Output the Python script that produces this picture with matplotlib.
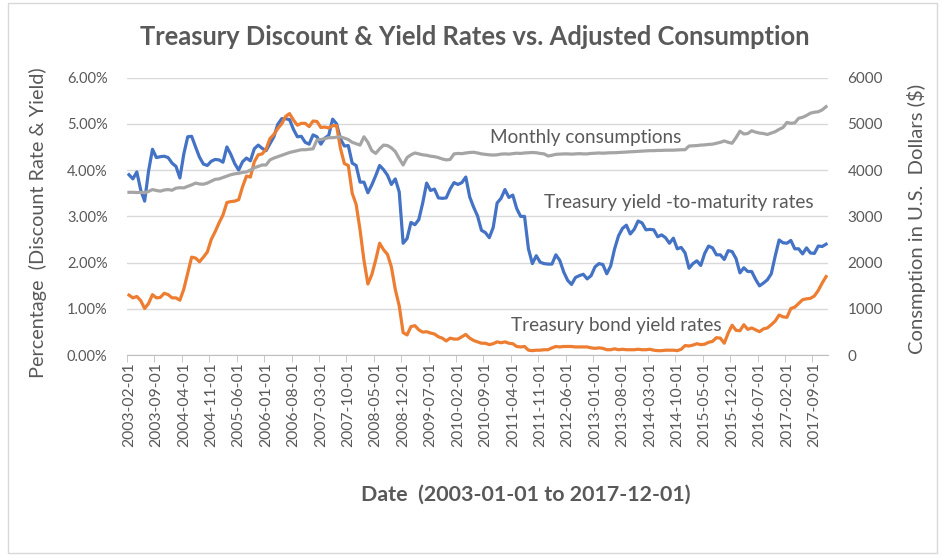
import matplotlib
matplotlib.use("Agg")
import matplotlib.pyplot as plt
import matplotlib.patches as patches
import numpy as np
import pandas as pd

plt.rcParams['font.family'] = ['Lato', 'DejaVu Sans']

# monthly dates, 2003-02-01 .. 2017-12-01
dates = pd.date_range("2003-02-01", "2017-12-01", freq="MS").strftime("%Y-%m-%d").tolist()

# treasury yield-to-maturity (%)
ytm = [3.90, 3.81, 3.96, 3.57, 3.33, 3.98, 4.45, 4.27, 4.29, 4.30, 4.27,
       4.15, 4.08, 3.83, 4.35, 4.72, 4.73, 4.50, 4.28, 4.13, 4.10, 4.19, 4.23,
       4.22, 4.17, 4.50, 4.34, 4.14, 4.00, 4.18, 4.26, 4.20, 4.46, 4.54, 4.47,
       4.42, 4.57, 4.72, 4.99, 5.11, 5.11, 5.09, 4.88, 4.72, 4.73, 4.60, 4.56,
       4.76, 4.72, 4.56, 4.69, 4.75, 5.10, 5.00, 4.67, 4.52, 4.53, 4.15, 4.10,
       3.74, 3.74, 3.51, 3.68, 3.88, 4.10, 4.01, 3.89, 3.69, 3.81, 3.53, 2.42,
       2.52, 2.87, 2.82, 2.93, 3.29, 3.72, 3.56, 3.59, 3.40, 3.39, 3.40, 3.59,
       3.73, 3.69, 3.73, 3.85, 3.42, 3.20, 3.01, 2.70, 2.65, 2.54, 2.76, 3.29,
       3.39, 3.58, 3.41, 3.46, 3.17, 3.00, 3.00, 2.30, 1.98, 2.15, 2.01, 1.98,
       1.97, 1.97, 2.17, 2.05, 1.80, 1.62, 1.53, 1.68, 1.72, 1.75, 1.65, 1.72,
       1.91, 1.98, 1.96, 1.76, 1.93, 2.30, 2.58, 2.74, 2.81, 2.62, 2.72, 2.90,
       2.86, 2.71, 2.72, 2.71, 2.56, 2.60, 2.54, 2.42, 2.53, 2.30, 2.33, 2.21,
       1.88, 1.98, 2.04, 1.94, 2.20, 2.36, 2.32, 2.17, 2.17, 2.07, 2.26, 2.24,
       2.09, 1.78, 1.89, 1.81, 1.81, 1.64, 1.50, 1.56, 1.63, 1.76, 2.14, 2.49,
       2.43, 2.42, 2.48, 2.30, 2.30, 2.19, 2.32, 2.21, 2.20, 2.36, 2.35, 2.40]

# treasury bond yield (%)
bond = [1.30, 1.24, 1.27, 1.18, 1.01, 1.12, 1.31, 1.24, 1.25, 1.34, 1.31,
        1.24, 1.24, 1.19, 1.43, 1.78, 2.12, 2.10, 2.02, 2.12, 2.23, 2.50, 2.67,
        2.86, 3.03, 3.30, 3.32, 3.33, 3.36, 3.64, 3.87, 3.85, 4.18, 4.33, 4.35,
        4.45, 4.68, 4.77, 4.90, 5.00, 5.16, 5.22, 5.08, 4.97, 5.01, 5.01, 4.94,
        5.06, 5.05, 4.92, 4.93, 4.91, 4.96, 4.96, 4.47, 4.14, 4.10, 3.50, 3.26,
        2.71, 2.05, 1.54, 1.74, 2.06, 2.42, 2.28, 2.18, 1.91, 1.42, 1.07, 0.49,
        0.44, 0.62, 0.64, 0.55, 0.50, 0.51, 0.48, 0.46, 0.40, 0.37, 0.31, 0.37,
        0.35, 0.35, 0.40, 0.45, 0.37, 0.32, 0.29, 0.26, 0.26, 0.23, 0.25, 0.29,
        0.27, 0.29, 0.26, 0.25, 0.19, 0.18, 0.19, 0.11, 0.10, 0.11, 0.11, 0.12,
        0.12, 0.16, 0.19, 0.18, 0.19, 0.19, 0.19, 0.18, 0.18, 0.18, 0.18, 0.16,
        0.15, 0.16, 0.15, 0.12, 0.12, 0.14, 0.12, 0.13, 0.12, 0.12, 0.12, 0.13,
        0.12, 0.12, 0.13, 0.11, 0.10, 0.10, 0.11, 0.11, 0.11, 0.10, 0.13, 0.21,
        0.20, 0.22, 0.25, 0.23, 0.24, 0.28, 0.30, 0.38, 0.37, 0.26, 0.48, 0.65,
        0.54, 0.53, 0.66, 0.56, 0.59, 0.55, 0.51, 0.57, 0.59, 0.66, 0.74, 0.87,
        0.83, 0.82, 1.01, 1.04, 1.12, 1.20, 1.22, 1.23, 1.28, 1.40, 1.56, 1.70]

# adjusted monthly consumption ($)
consumption = [3520, 3520, 3515, 3520, 3510, 3540, 3580, 3560, 3545, 3570, 3580,
               3565, 3610, 3620, 3615, 3650, 3680, 3720, 3700, 3695, 3720, 3760, 3800,
               3810, 3840, 3870, 3900, 3920, 3930, 3950, 3960, 4000, 4050, 4080, 4110,
               4110, 4220, 4260, 4290, 4320, 4350, 4380, 4400, 4420, 4440, 4440, 4450,
               4460, 4650, 4660, 4680, 4700, 4700, 4710, 4720, 4690, 4660, 4600, 4570,
               4540, 4720, 4600, 4420, 4360, 4460, 4540, 4530, 4480, 4400, 4250, 4110,
               4270, 4330, 4370, 4350, 4330, 4320, 4300, 4290, 4270, 4240, 4220, 4230,
               4350, 4360, 4355, 4370, 4380, 4385, 4370, 4350, 4340, 4330, 4325, 4330,
               4345, 4350, 4345, 4355, 4365, 4360, 4370, 4375, 4380, 4375, 4360, 4350,
               4305, 4320, 4340, 4345, 4350, 4350, 4345, 4350, 4355, 4350, 4350, 4360,
               4365, 4370, 4365, 4370, 4375, 4375, 4380, 4385, 4390, 4395, 4400, 4405,
               4410, 4415, 4420, 4420, 4425, 4425, 4430, 4430, 4430, 4435, 4440, 4440,
               4520, 4525, 4530, 4540, 4545, 4555, 4560, 4580, 4600, 4630, 4600, 4580,
               4700, 4840, 4780, 4790, 4850, 4820, 4800, 4790, 4770, 4800, 4830, 4880,
               4920, 5030, 5010, 5020, 5120, 5140, 5180, 5230, 5250, 5260, 5300, 5370]

pct_ticks = [0, 1, 2, 3, 4, 5, 6]
usd_ticks = [0, 1000, 2000, 3000, 4000, 5000, 6000]

TXT = '#595959'
x = np.arange(len(dates))

fig = plt.figure(figsize=(9.43, 5.56), dpi=100)
ax = fig.add_axes([0.1347, 0.361, 0.7434, 0.4996])
ax2 = ax.twinx()

ax.plot(x, ytm, color='#4472C4', lw=2.3, solid_joinstyle='round')
ax.plot(x, bond, color='#ED7D31', lw=2.3, solid_joinstyle='round')
ax2.plot(x, consumption, color='#A5A5A5', lw=2.3, solid_joinstyle='round')

ax.set_xlim(-0.5, len(x) - 0.5)
ax.set_ylim(0, 6)
ax2.set_ylim(0, 6000)
ax.set_yticks(pct_ticks)
ax.set_yticklabels(['%.2f%%' % v for v in pct_ticks])
ax2.set_yticks(usd_ticks)
ax2.set_yticklabels([str(v) for v in usd_ticks])

ax.set_xticks(x[::7])
ax.set_xticklabels(dates[::7], rotation=90, fontsize=11.3, color=TXT)
ax.set_xticks(np.arange(-0.5, len(x), 7), minor=True)
ax.tick_params(axis='x', which='major', length=0, pad=5)
ax.tick_params(axis='x', which='minor', length=5, color='#BFBFBF')
ax.tick_params(axis='y', length=0, labelsize=10.5, labelcolor=TXT, pad=14)
ax2.tick_params(axis='y', length=0, labelsize=11, labelcolor=TXT, pad=14)

ax.grid(axis='y', color='#D9D9D9', lw=1)
ax.set_axisbelow(True)
for a in (ax, ax2):
    for s in a.spines.values():
        s.set_visible(False)
ax.spines['bottom'].set_visible(True)
ax.spines['bottom'].set_color('#BFBFBF')

fig.text(0.040, 0.60, 'Percentage  (Discount Rate & Yield)', rotation=90, fontsize=14.3,
         color=TXT, ha='center', va='center')
fig.text(0.972, 0.606, 'Consmption in U.S.  Dollars ($)', rotation=90, fontsize=14.6,
         color=TXT, ha='center', va='center')
fig.text(526 / 943, 1 - 495 / 556, 'Date  (2003-01-01 to 2017-12-01)', fontsize=15.4,
         fontweight='bold', color=TXT, ha='center', va='center')
fig.text(0.503, 1 - 37 / 556, 'Treasury Discount & Yield Rates vs. Adjusted Consumption',
         fontsize=18.4, fontweight='bold', color=TXT, ha='center', va='center')

ax.text(92.2, 4.71, 'Monthly consumptions', fontsize=13.6, color=TXT, va='center')
ax.text(106, 3.29, 'Treasury yield -to-maturity rates', fontsize=13.6, color=TXT, va='center')
ax.text(97.6, 0.65, 'Treasury bond yield rates', fontsize=13.6, color=TXT, va='center')

fig.patches.append(patches.Rectangle((0.008, 0.005), 0.986, 0.99, transform=fig.transFigure,
                                     fill=False, edgecolor='#D9D9D9', lw=1))

fig.savefig('out.png', dpi=100)
